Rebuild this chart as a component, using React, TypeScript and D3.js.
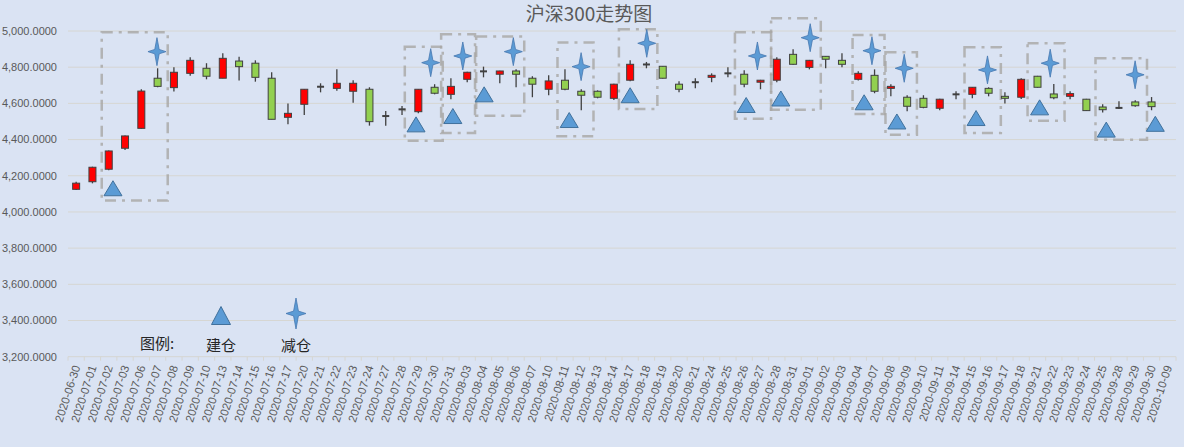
import * as d3 from "d3";

const dates = [
  "2020-06-30", "2020-07-01", "2020-07-02", "2020-07-03", "2020-07-06", "2020-07-07", "2020-07-08",
  "2020-07-09", "2020-07-10", "2020-07-13", "2020-07-14", "2020-07-15", "2020-07-16", "2020-07-17",
  "2020-07-20", "2020-07-21", "2020-07-22", "2020-07-23", "2020-07-24", "2020-07-27", "2020-07-28",
  "2020-07-29", "2020-07-30", "2020-07-31", "2020-08-03", "2020-08-04", "2020-08-05", "2020-08-06",
  "2020-08-07", "2020-08-10", "2020-08-11", "2020-08-12", "2020-08-13", "2020-08-14", "2020-08-17",
  "2020-08-18", "2020-08-19", "2020-08-20", "2020-08-21", "2020-08-24", "2020-08-25", "2020-08-26",
  "2020-08-27", "2020-08-28", "2020-08-31", "2020-09-01", "2020-09-02", "2020-09-03", "2020-09-04",
  "2020-09-07", "2020-09-08", "2020-09-09", "2020-09-10", "2020-09-11", "2020-09-14", "2020-09-15",
  "2020-09-16", "2020-09-17", "2020-09-18", "2020-09-21", "2020-09-22", "2020-09-23", "2020-09-24",
  "2020-09-25", "2020-09-28", "2020-09-29", "2020-09-30", "2020-10-09"
];

const open = [
  4125, 4167, 4236, 4352, 4462, 4739, 4687, 4766, 4794, 4739, 4834, 4822, 4739, 4523,
  4595, 4693, 4683, 4667, 4678, 4531, 4566, 4554, 4689, 4650, 4733, 4778, 4761, 4779,
  4739, 4678, 4728, 4667, 4667, 4628, 4728, 4817, 4805, 4706, 4718, 4744, 4767, 4761,
  4717, 4728, 4871, 4799, 4860, 4838, 4733, 4755, 4683, 4634, 4628, 4573, 4651, 4650,
  4683, 4639, 4634, 4750, 4652, 4639, 4623, 4580, 4576, 4608, 4608, null
];
const high = [
  4167, 4250, 4340, 4422, 4678, 4794, 4799, 4855, 4822, 4877, 4858, 4838, 4772, 4600,
  4680, 4711, 4788, 4728, 4689, 4558, 4586, 4680, 4706, 4739, 4775, 4803, 4781, 4788,
  4750, 4755, 4788, 4678, 4672, 4708, 4838, 4829, 4807, 4722, 4739, 4766, 4799, 4783,
  4730, 4855, 4899, 4840, 4862, 4877, 4777, 4788, 4706, 4645, 4645, 4625, 4667, 4691,
  4689, 4661, 4739, 4752, 4707, 4667, 4625, 4595, 4612, 4617, 4635, null
];
const low = [
  4121, 4158, 4230, 4343, 4460, 4689, 4665, 4753, 4733, 4739, 4726, 4720, 4512, 4485,
  4536, 4661, 4670, 4604, 4477, 4477, 4536, 4545, 4650, 4623, 4717, 4744, 4711, 4689,
  4634, 4645, 4672, 4562, 4628, 4619, 4722, 4794, 4737, 4661, 4683, 4717, 4744, 4689,
  4678, 4717, 4814, 4788, 4794, 4799, 4726, 4656, 4639, 4556, 4573, 4562, 4623, 4628,
  4639, 4600, 4624, 4687, 4623, 4623, 4558, 4549, 4569, 4582, 4562, null
];
const close = [
  4159, 4247, 4337, 4420, 4668, 4694, 4772, 4838, 4750, 4849, 4803, 4744, 4512, 4545,
  4678, 4691, 4711, 4711, 4499, 4529, 4568, 4678, 4656, 4694, 4772, 4776, 4779, 4761,
  4706, 4724, 4678, 4645, 4634, 4706, 4816, 4813, 4739, 4678, 4716, 4755, 4765, 4706,
  4728, 4844, 4816, 4838, 4844, 4816, 4766, 4667, 4694, 4584, 4578, 4623, 4649, 4689,
  4656, 4628, 4733, 4689, 4631, 4654, 4560, 4565, 4574, 4587, 4582, null
];

// 建仓 / 减仓 markers: position in trading-day index, price level
const buyAt = [2.26, 20.86, 23.12, 25.04, 30.26, 34.0, 41.12, 43.25, 48.36, 50.37, 55.23, 59.13, 63.22, 66.23];
const buyPrice = [4131, 4484, 4530, 4650, 4508, 4645, 4591, 4627, 4606, 4500, 4519, 4578, 4455, 4487];
const sellAt = [4.96, 21.76, 23.73, 26.83, 30.99, 35.02, 41.81, 45.05, 48.84, 50.82, 55.93, 59.78, 64.99];
const sellPrice = [4886, 4825, 4862, 4886, 4803, 4932, 4862, 4963, 4891, 4794, 4785, 4822, 4758];

// dash-dot boxes round each trade
const boxFrom = [1.57, 20.17, 22.4, 24.55, 29.54, 33.31, 40.43, 42.65, 47.65, 49.67, 54.52, 58.39, 62.56];
const boxTo = [5.62, 22.5, 24.48, 27.5, 31.75, 35.67, 42.65, 45.7, 49.61, 51.6, 56.75, 60.66, 65.72];
const boxHigh = [4993, 4913, 4982, 4969, 4936, 5009, 4993, 5070, 4978, 4883, 4910, 4932, 4850];
const boxLow = [4063, 4394, 4436, 4532, 4418, 4569, 4515, 4565, 4541, 4427, 4436, 4504, 4399];

const yTicks = [3200, 3400, 3600, 3800, 4000, 4200, 4400, 4600, 4800, 5000];

const triangle = (w: number, h: number) => `M0,${-h / 2}L${w / 2},${h / 2}L${-w / 2},${h / 2}Z`;
const star = (rx: number, ry: number, r: number) =>
  `M0,${-ry}L${r},${-r}L${rx},0L${r},${r}L0,${ry}L${-r},${r}L${-rx},0L${-r},${-r}Z`;

export default function App() {
  const width = 1184;
  const height = 447;
  const marginLeft = 68;
  const plotRight = 1176;
  const top = 31;
  const bottom = 356.7;

  const x = d3.scaleBand(dates, [marginLeft, plotRight]);
  const pos = d3.scaleLinear([-0.5, dates.length - 0.5], [marginLeft, plotRight]);
  const y = d3.scaleLinear([3200, 5000], [bottom, top]);
  const fmt = d3.format(",.4f");
  const bw = 7;

  const latin = "'Liberation Sans', Arial, sans-serif";
  const cjk = "'Noto Sans CJK SC', sans-serif";

  return (
    <svg width={width} height={height} style={{ position: "absolute", left: 0, top: 0 }}>
      <rect width={width} height={height} fill="#dae3f3" />
      <text x={589} y={21} textAnchor="middle" fontFamily={cjk} fontSize={19} fill="#595959">
        沪深300走势图
      </text>

      {yTicks.map(t => (
        <g key={t}>
          <line x1={marginLeft} x2={plotRight} y1={y(t)} y2={y(t)} stroke="#d6d6d2" strokeWidth={1} />
          <text x={57} y={y(t)} dy="0.35em" textAnchor="end" fontFamily={latin} fontSize={11} fill="#595959">
            {fmt(t)}
          </text>
        </g>
      ))}

      {d3.range(dates.length + 1).map(i => (
        <line key={i} x1={marginLeft + i * x.step()} x2={marginLeft + i * x.step()}
          y1={bottom} y2={bottom + 4} stroke="#d6d6d2" />
      ))}
      {dates.map(d => (
        <text key={d} transform={`translate(${x(d)! + x.bandwidth() / 2 + 0.5},${bottom + 9}) rotate(-72)`}
          dy="0.35em" textAnchor="end" fontFamily={latin} fontSize={11.5} fill="#595959">
          {d}
        </text>
      ))}

      {boxFrom.map((b, i) => (
        <rect key={i} x={pos(b)} y={y(boxHigh[i])} width={pos(boxTo[i]) - pos(b)}
          height={y(boxLow[i]) - y(boxHigh[i])} fill="none" stroke="#a8a6a4" strokeOpacity={0.8}
          strokeWidth={2.5} strokeDasharray="11 6 3 6" />
      ))}

      {dates.map((d, i) => {
        if (open[i] == null) return null;
        const o = open[i]!, c = close[i]!, h = high[i]!, l = low[i]!;
        const cx = x(d)! + x.bandwidth() / 2;
        const y0 = y(Math.max(o, c));
        const y1 = y(Math.min(o, c));
        const doji = y1 - y0 < 1.5;
        return (
          <g key={d}>
            <line x1={cx} x2={cx} y1={y(h)} y2={y(l)} stroke="#404040" strokeWidth={1.3} />
            {doji ? (
              <line x1={cx - bw / 2} x2={cx + bw / 2} y1={(y0 + y1) / 2} y2={(y0 + y1) / 2}
                stroke="#404040" strokeWidth={2} />
            ) : (
              <rect x={cx - bw / 2} y={y0} width={bw} height={y1 - y0}
                fill={c > o ? "#ff0000" : "#92d050"} stroke="#404040" strokeWidth={1} />
            )}
          </g>
        );
      })}

      {buyAt.map((b, i) => (
        <path key={i} transform={`translate(${pos(b)},${y(buyPrice[i])})`} d={triangle(18, 15)}
          fill="#5b9bd5" stroke="#41719c" strokeWidth={1} />
      ))}
      {sellAt.map((s, i) => (
        <path key={i} transform={`translate(${pos(s)},${y(sellPrice[i])})`} d={star(9, 14, 2.2)}
          fill="#5b9bd5" stroke="#4677b0" strokeWidth={0.8} />
      ))}

      <g fontFamily={cjk} fontSize={15} fill="#262626">
        <text x={140} y={349}>图例:</text>
        <path transform="translate(221,315.5)" d={triangle(19, 18)} fill="#5b9bd5" stroke="#41719c" />
        <text x={221} y={351} textAnchor="middle">建仓</text>
        <path transform="translate(296,313.5)" d={star(10, 15.5, 2.4)} fill="#5b9bd5" stroke="#4677b0" strokeWidth={0.8} />
        <text x={296} y={351} textAnchor="middle">减仓</text>
      </g>
    </svg>
  );
}
